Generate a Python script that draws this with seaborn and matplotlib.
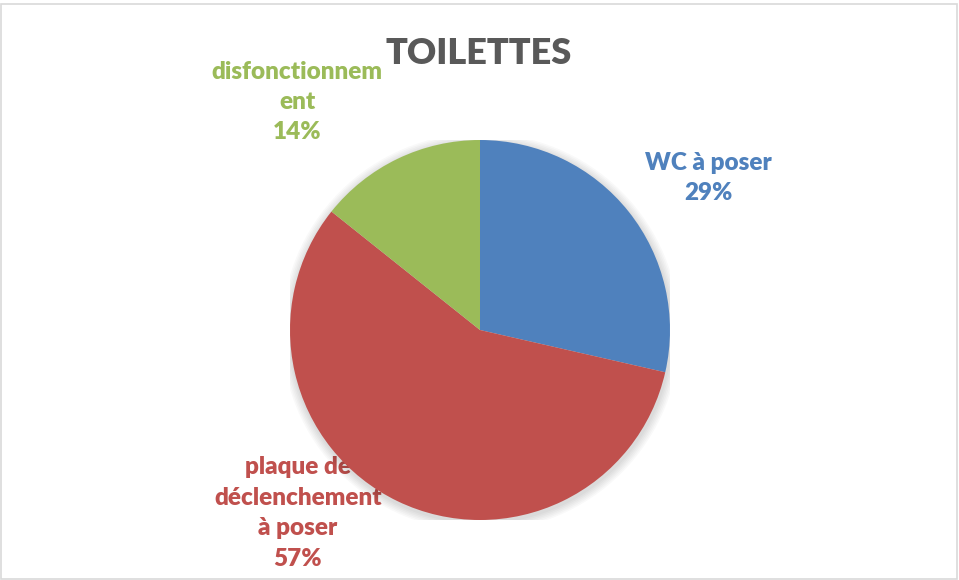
import matplotlib
matplotlib.use("Agg")
import matplotlib.pyplot as plt
import seaborn as sns
from matplotlib.patches import Rectangle, Circle

# données du graphique
categories = ['WC à poser', 'plaque de\ndéclenchement\nà poser', 'disfonctionnem\nent']
valeurs = [2, 4, 1]
couleurs = ['#4F81BD', '#C0504D', '#9BBB59']
titre = 'TOILETTES'

sns.set_theme(style='white')
plt.rcParams['font.family'] = ['Lato', 'DejaVu Sans']

W, H = 959, 580
fig = plt.figure(figsize=(W / 100, H / 100), dpi=100)

# axe de fond pour les textes (sous le camembert)
bg = fig.add_axes([0, 0, 1, 1], zorder=0)
bg.set_xlim(0, W)
bg.set_ylim(H, 0)
bg.axis('off')

# cadre gris clair autour du graphique
bg.add_patch(Rectangle((0.5, 4), 956.5, 575, fill=False,
                       edgecolor='#D9D9D9', linewidth=1.2))

# camembert : centre (480, 330), rayon 190 px
cx, cy, r = 480, 330, 190
ax = fig.add_axes([(cx - r) / W, 1 - (cy + r) / H, 2 * r / W, 2 * r / H], zorder=1)
ax.patch.set_alpha(0)
# ombre légère
for k in range(6):
    ax.add_patch(Circle((0.004, -0.012), 1.0 + 0.008 * (k + 1), color='#000000',
                        alpha=0.025, linewidth=0, zorder=0))
wedges, _ = ax.pie(valeurs, colors=couleurs, startangle=90, counterclock=False,
                   radius=1.0, wedgeprops=dict(linewidth=0, zorder=2))
ax.set_xlim(-1, 1)
ax.set_ylim(-1, 1)
ax.set_aspect('equal')
ax.axis('off')

total = sum(valeurs)
pcts = [f'{round(v / total * 100)}%' for v in valeurs]

# positions des étiquettes (pixels)
pos = [(708, 178), (298, 513), (297, 102)]
for cat, p, (x, y), c in zip(categories, pcts, pos, couleurs):
    bg.text(x, y, f'{cat}\n{p}', ha='center', va='center',
            color=c, fontsize=17.5, fontweight='heavy', linespacing=1.47)

bg.text(479, 53, titre, ha='center', va='center',
        color='#595959', fontsize=26, fontweight='heavy')

fig.savefig('out.png', dpi=100)
